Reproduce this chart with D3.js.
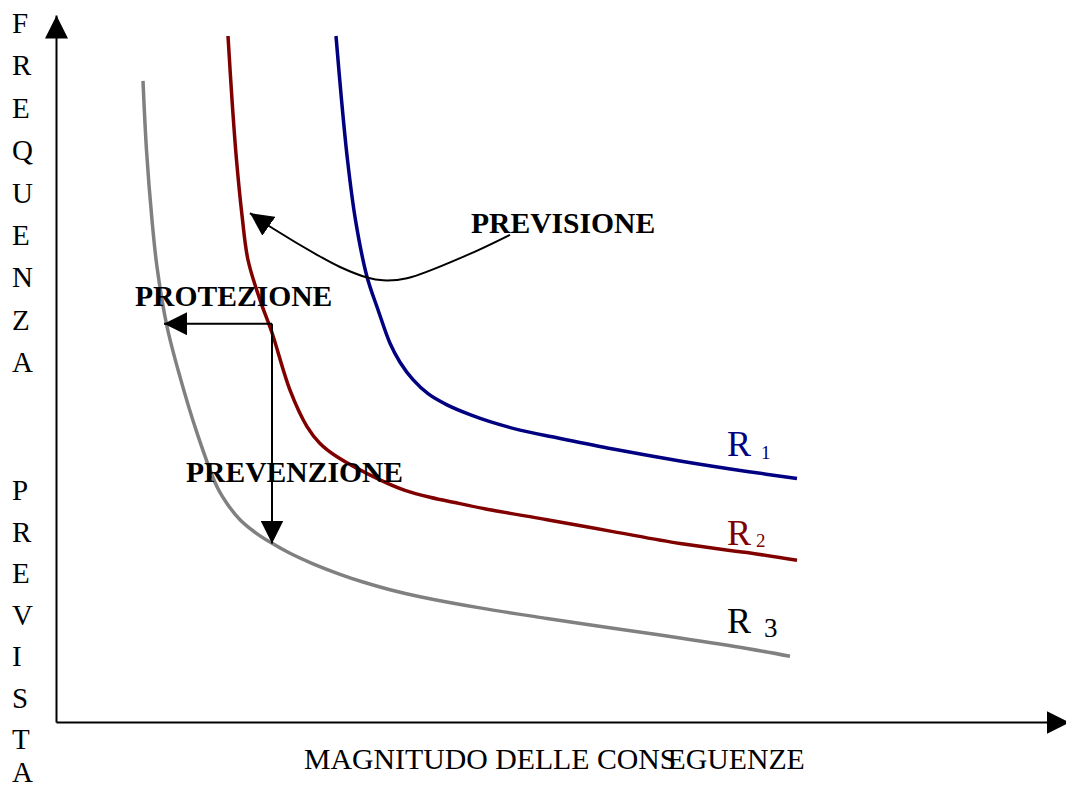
<!DOCTYPE html>
<html>
<head>
<meta charset="utf-8">
<script src="https://cdn.jsdelivr.net/npm/d3@7"></script>
<style>
  html, body { margin: 0; padding: 0; background: #fff; }
  svg { display: block; font-family: "Liberation Serif", "Times New Roman", serif; }
</style>
</head>
<body>
<div id="chart"></div>
<script>
// curve values (magnitudo 0-100, frequenza 0-100)
const r1Mag  = [28.0, 28.55, 29.15, 29.95, 31.1, 32.2, 33.4, 34.4, 35.7, 37.2, 39.1, 41.4, 43.4, 46.4, 50.1, 55.7, 62.4, 69.1, 74.1]
const r1Freq = [98.0, 88.9, 80.3, 71.7, 63.6, 58.9, 54.1, 51.4, 48.9, 46.9, 45.3, 43.9, 42.9, 41.7, 40.6, 39.0, 37.3, 35.8, 34.8]

const r2Mag  = [17.2, 17.6, 18.05, 18.6, 19.2, 20.4, 21.6, 23.4, 25.1, 26.4, 28.1, 32.4, 34.9, 37.4, 40.4, 43.1, 49.1, 55.7, 62.4, 69.1, 74.1]
const r2Freq = [98.0, 88.9, 80.3, 72.4, 66.0, 60.3, 55.6, 47.4, 42.2, 39.8, 37.9, 34.6, 33.1, 32.1, 31.2, 30.4, 28.9, 27.2, 25.5, 24.2, 23.1]

const r3Mag  = [8.7, 9.05, 9.6, 10.1, 11.1, 12.4, 14.1, 16.1, 17.2, 18.4, 19.9, 21.4, 23.4, 25.7, 28.4, 30.7, 33.4, 36.4, 42.4, 49.1, 55.7, 62.4, 69.1, 73.4]
const r3Freq = [91.6, 81.7, 71.7, 65.0, 56.5, 49.3, 41.3, 33.6, 31.0, 28.9, 27.1, 25.7, 24.1, 22.6, 21.1, 20.0, 18.9, 17.9, 16.3, 14.8, 13.4, 12.0, 10.5, 9.4]

const seriesNames = ['R1', 'R2', 'R3']
const seriesColors = ['#000080', '#800000', '#808080']

// annotation arrows
const previsioneMag  = [45.4, 41.1, 35.1, 32.7, 31.1, 28.4, 26.4, 21.7, 19.4]
const previsioneFreq = [69.6, 66.7, 63.4, 63.1, 63.5, 65.0, 66.5, 70.5, 72.7]
const protezioneMag  = [21.6, 10.8]
const protezioneFreq = [56.9, 56.9]
const prevenzioneMag  = [21.6, 21.6]
const prevenzioneFreq = [56.9, 25.5]

const yLabelTop = 'FREQUENZA'.split('')
const yLabelBottom = 'PREVISTA'.split('')
const xLabel = ['MAGNITUDO DELLE CONS', 'EGUENZE']

const width = 1066
const height = 789

const svg = d3.select('#chart').append('svg')
  .attr('width', width)
  .attr('height', height)

const x = d3.scaleLinear().domain([0, 100]).range([56, 1056])
const y = d3.scaleLinear().domain([0, 100]).range([722, 22])

// arrow head
svg.append('defs').append('marker')
  .attr('id', 'head')
  .attr('markerUnits', 'userSpaceOnUse')
  .attr('viewBox', '0 0 23 23')
  .attr('markerWidth', 23)
  .attr('markerHeight', 23)
  .attr('refX', 23)
  .attr('refY', 11.5)
  .attr('orient', 'auto')
  .append('path')
  .attr('d', 'M0,0L23,11.5L0,23Z')
  .attr('fill', '#000')

// axes (no ticks, just the arrows)
const xAxisScale = d3.scaleLinear().domain([0, 101.3]).range([x(0), x(101.3)])
const yAxisScale = d3.scaleLinear().domain([0, 101]).range([y(0), y(101)])

svg.append('g')
  .attr('transform', 'translate(0,' + y(0) + ')')
  .call(d3.axisBottom(xAxisScale).ticks(0).tickSizeOuter(0))
  .select('.domain')
  .attr('stroke', '#000')
  .attr('stroke-width', 2)
  .attr('marker-end', 'url(#head)')

svg.append('g')
  .attr('transform', 'translate(' + x(0) + ',0)')
  .call(d3.axisLeft(yAxisScale).ticks(0).tickSizeOuter(0))
  .select('.domain')
  .attr('stroke', '#000')
  .attr('stroke-width', 2)
  .attr('marker-end', 'url(#head)')

// curves
const line = d3.line()
  .x(d => x(d[0]))
  .y(d => y(d[1]))
  .curve(d3.curveCatmullRom.alpha(0.5))

const series = [
  d3.zip(r1Mag, r1Freq),
  d3.zip(r2Mag, r2Freq),
  d3.zip(r3Mag, r3Freq)
]

svg.append('g').selectAll('path')
  .data(series)
  .join('path')
  .attr('fill', 'none')
  .attr('stroke', (d, i) => seriesColors[i])
  .attr('stroke-width', 3.5)
  .attr('stroke-linejoin', 'round')
  .attr('d', line)

// arrows
const arrows = [
  d3.zip(previsioneMag, previsioneFreq),
  d3.zip(protezioneMag, protezioneFreq),
  d3.zip(prevenzioneMag, prevenzioneFreq)
]
svg.append('g').selectAll('path')
  .data(arrows)
  .join('path')
  .attr('fill', 'none')
  .attr('stroke', '#000')
  .attr('stroke-width', 2)
  .attr('marker-end', 'url(#head)')
  .attr('d', line)

// bold labels
const bold = svg.append('g')
  .attr('font-size', 29.6)
  .attr('font-weight', 'bold')
  .attr('fill', '#000')
bold.append('text').attr('x', 471).attr('y', 233).text('PREVISIONE')
bold.append('text').attr('x', 135).attr('y', 306).text('PROTEZIONE')
bold.append('text').attr('x', 186).attr('y', 482).text('PREVENZIONE')

// series labels
const rLabels = svg.append('g').attr('font-size', 36)
const r1 = rLabels.append('text').attr('x', 727).attr('y', 456).attr('fill', seriesColors[0])
r1.append('tspan').text('R')
r1.append('tspan').attr('x', 761).attr('dy', 3).attr('font-size', 19).text(seriesNames[0].slice(1))
const r2 = rLabels.append('text').attr('x', 727).attr('y', 545).attr('fill', seriesColors[1])
r2.append('tspan').text('R')
r2.append('tspan').attr('x', 756).attr('dy', 2).attr('font-size', 19).text(seriesNames[1].slice(1))
const r3 = rLabels.append('text').attr('x', 727).attr('y', 633).attr('fill', '#000')
r3.append('tspan').text('R')
r3.append('tspan').attr('x', 764).attr('dy', 4).attr('font-size', 27).text(seriesNames[2].slice(1))

// axis titles
const yTitle = svg.append('g').attr('font-size', 29).attr('fill', '#000')
yTitle.selectAll('.top')
  .data(yLabelTop)
  .join('text')
  .attr('class', 'top')
  .attr('x', 12)
  .attr('y', (d, i) => 33 + i * 42.4)
  .text(d => d)
yTitle.selectAll('.bottom')
  .data(yLabelBottom)
  .join('text')
  .attr('class', 'bottom')
  .attr('x', 12)
  .attr('y', (d, i) => i < 7 ? 500 + i * 41.5 : 782)
  .text(d => d)

const xt = svg.append('text')
  .attr('x', 304)
  .attr('y', 769)
  .attr('font-size', 29.8)
  .attr('fill', '#000')
xt.append('tspan').text(xLabel[0])
xt.append('tspan').attr('dx', -9).text(xLabel[1])
</script>
</body>
</html>
